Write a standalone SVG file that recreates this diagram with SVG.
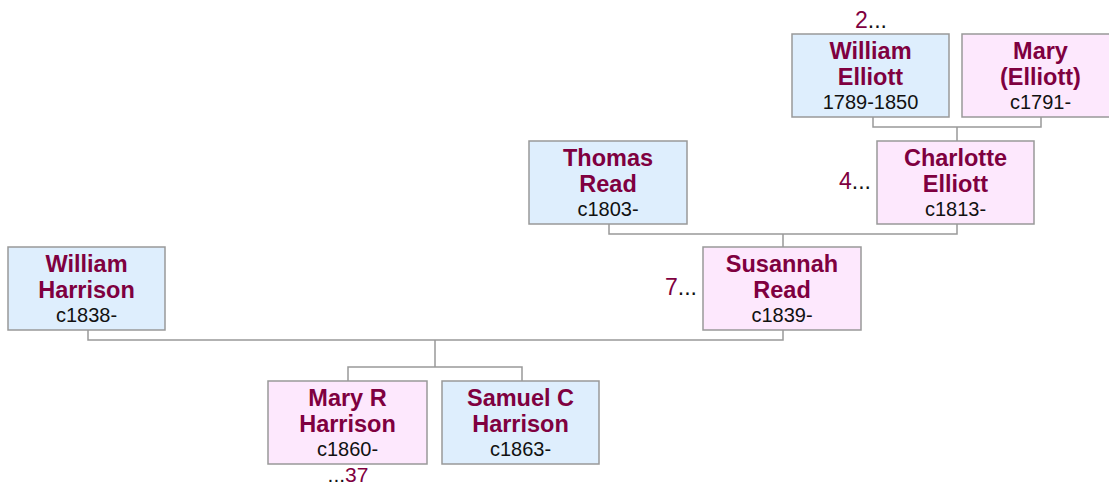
<svg xmlns="http://www.w3.org/2000/svg" width="1109" height="486" viewBox="0 0 1109 486">
<style>
.m{fill:#deeefd;stroke:#999;stroke-width:1.5}
.f{fill:#fde8fd;stroke:#999;stroke-width:1.5}
.n{font-family:"Liberation Sans",Arial,sans-serif;font-weight:bold;font-size:23.5px;fill:#7f0040;text-anchor:middle}
.d{font-family:"Liberation Sans",Arial,sans-serif;font-size:20px;fill:#111;text-anchor:middle}
.r{font-family:"Liberation Sans",Arial,sans-serif;font-size:23px;fill:#111}
.r tspan.c{fill:#7f0040}
.l{fill:none;stroke:#999;stroke-width:1.5}
</style>
<g id="connectors">
<path class="l" d="M873,117V127H1041V117M957,127V141"/>
<path class="l" d="M609,224V234H957V224M783,234V247"/>
<path class="l" d="M88,330V340H783V330M435,340V367M348,381V367H522V381"/>
</g>
<g id="william-elliott">
<rect class="m" x="792" y="34" width="157" height="83"/>
<text class="n" x="870.5" y="59">William</text>
<text class="n" x="870.5" y="85">Elliott</text>
<text class="d" x="870.5" y="109">1789-1850</text>
<text class="r" x="871" y="28" text-anchor="middle"><tspan class="c">2</tspan>...</text>
</g>
<g id="mary-elliott">
<rect class="f" x="962" y="34" width="157" height="83"/>
<text class="n" x="1040.5" y="59">Mary</text>
<text class="n" x="1040.5" y="85">(Elliott)</text>
<text class="d" x="1040.5" y="109">c1791-</text>
</g>
<g id="thomas-read">
<rect class="m" x="529" y="141" width="158" height="83"/>
<text class="n" x="608" y="166">Thomas</text>
<text class="n" x="608" y="192">Read</text>
<text class="d" x="608" y="216">c1803-</text>
</g>
<g id="charlotte-elliott">
<rect class="f" x="877" y="141" width="157" height="83"/>
<text class="n" x="955.5" y="166">Charlotte</text>
<text class="n" x="955.5" y="192">Elliott</text>
<text class="d" x="955.5" y="216">c1813-</text>
<text class="r" x="871" y="189" text-anchor="end"><tspan class="c">4</tspan>...</text>
</g>
<g id="william-harrison">
<rect class="m" x="8" y="247" width="157" height="83"/>
<text class="n" x="86.5" y="272">William</text>
<text class="n" x="86.5" y="298">Harrison</text>
<text class="d" x="86.5" y="322">c1838-</text>
</g>
<g id="susannah-read">
<rect class="f" x="703" y="247" width="158" height="83"/>
<text class="n" x="782" y="272">Susannah</text>
<text class="n" x="782" y="298">Read</text>
<text class="d" x="782" y="322">c1839-</text>
<text class="r" x="697" y="295" text-anchor="end"><tspan class="c">7</tspan>...</text>
</g>
<g id="mary-r-harrison">
<rect class="f" x="268" y="381" width="159" height="83"/>
<text class="n" x="347.5" y="406">Mary R</text>
<text class="n" x="347.5" y="432">Harrison</text>
<text class="d" x="347.5" y="456">c1860-</text>
<text class="r" x="348" y="481.5" text-anchor="middle" style="font-size:21px">...<tspan class="c">37</tspan></text>
</g>
<g id="samuel-c-harrison">
<rect class="m" x="442" y="381" width="157" height="83"/>
<text class="n" x="520.5" y="406">Samuel C</text>
<text class="n" x="520.5" y="432">Harrison</text>
<text class="d" x="520.5" y="456">c1863-</text>
</g>
</svg>
